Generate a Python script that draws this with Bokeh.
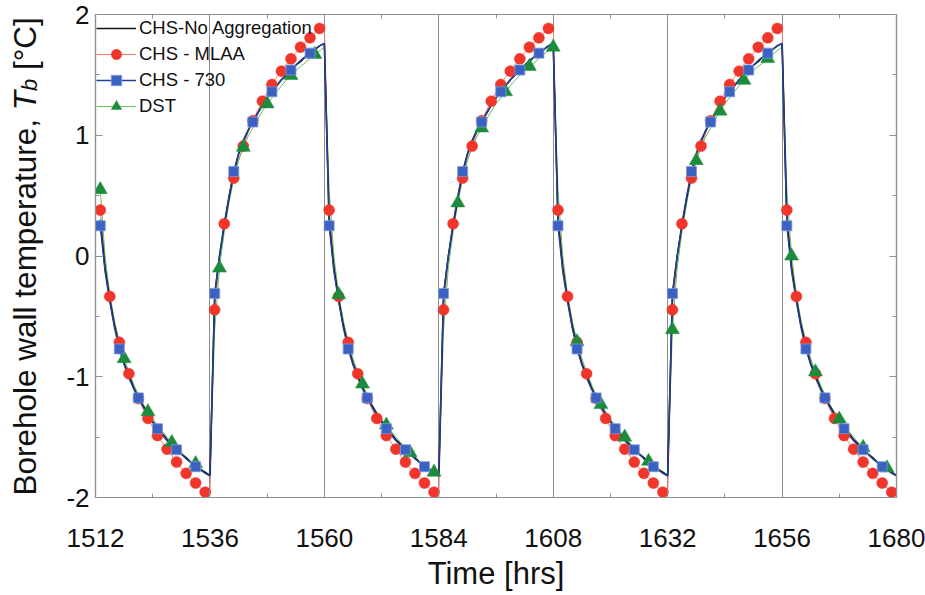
import numpy as np
from bokeh.plotting import figure
from bokeh.layouts import row
from bokeh.models import (FixedTicker, LinearAxis, Range1d, Legend, LegendItem,
                          Label, ColumnDataSource, CustomJSTickFormatter)
from bokeh.embed import file_html
from bokeh.resources import INLINE

# ---------------- data ----------------
# hourly simulation times
hours = list(range(1513, 1681))

# profiles for each 24-h half cycle, tau = 1..24 h after the load switch
# cooling half cycle (temperature falls) / heating half cycle (temperature rises)
na_cool = [0.30, -0.10, -0.36, -0.58, -0.75, -0.89, -0.99, -1.09, -1.17, -1.24, -1.31, -1.37,
           -1.42, -1.47, -1.52, -1.56, -1.60, -1.64, -1.67, -1.71, -1.74, -1.77, -1.79, -1.82]
na_heat = [-0.32, 0.00, 0.25, 0.48, 0.69, 0.84, 0.95, 1.04, 1.11, 1.18, 1.25, 1.31,
           1.36, 1.41, 1.46, 1.50, 1.54, 1.58, 1.61, 1.65, 1.68, 1.71, 1.74, 1.76]

mlaa_cool = [0.38, -0.05, -0.335, -0.55, -0.715, -0.86, -0.975, -1.08, -1.18, -1.27, -1.345, -1.42,
             -1.487, -1.545, -1.60, -1.655, -1.707, -1.755, -1.80, -1.84, -1.88, -1.92, -1.956, -1.99]
mlaa_heat = [-0.446, -0.03, 0.267, 0.48, 0.645, 0.79, 0.91, 1.02, 1.12, 1.205, 1.282, 1.355,
             1.42, 1.48, 1.531, 1.585, 1.633, 1.68, 1.729, 1.77, 1.807, 1.845, 1.885, 1.92]

c730_cool = [0.25, -0.13, -0.38, -0.60, -0.77, -0.90, -1.01, -1.10, -1.175, -1.25, -1.32, -1.38,
             -1.43, -1.48, -1.53, -1.57, -1.605, -1.64, -1.68, -1.71, -1.745, -1.77, -1.80, -1.82]
c730_heat = [-0.31, 0.00, 0.27, 0.50, 0.70, 0.85, 0.96, 1.04, 1.11, 1.18, 1.25, 1.31,
             1.36, 1.41, 1.46, 1.50, 1.54, 1.58, 1.62, 1.65, 1.68, 1.71, 1.74, 1.76]

dst_cool = [0.55, 0.00, -0.32, -0.54, -0.71, -0.85, -0.96, -1.06, -1.15, -1.23, -1.29, -1.35,
            -1.40, -1.45, -1.50, -1.545, -1.585, -1.63, -1.665, -1.70, -1.72, -1.755, -1.79, -1.81]
dst_heat = [-0.61, -0.10, 0.20, 0.44, 0.64, 0.79, 0.90, 0.99, 1.06, 1.13, 1.20, 1.26,
            1.31, 1.36, 1.41, 1.455, 1.495, 1.535, 1.57, 1.60, 1.635, 1.67, 1.70, 1.73]

half_cycles = ["cool", "heat", "cool", "heat", "cool", "heat", "cool"]

def series(cool, heat):
    out = []
    for h in half_cycles:
        out += cool if h == "cool" else heat
    return out

T_na = series(na_cool, na_heat)
T_mlaa = series(mlaa_cool, mlaa_heat)
T_730 = series(c730_cool, c730_heat)
T_dst = series(dst_cool, dst_heat)

# hours at which each method's markers are shown
mlaa_step, c730_step, dst_step = 2, 4, 5

x_ticks = [1512, 1536, 1560, 1584, 1608, 1632, 1656, 1680]
x_minor = [1524, 1548, 1572, 1596, 1620, 1644, 1668]
y_ticks = [-2, -1, 0, 1, 2]
y_minor = [-1.5, -0.5, 0.5, 1.5]
y_tick_text = ["-2", "-1", "0", "1", "2"]

labels = ["CHS-No Aggregation", "CHS - MLAA", "CHS - 730", "DST"]
y_title = ["Borehole wall temperature,", "T", "b", "[°C]"]

# ---------------- figure ----------------
FONT = "Liberation Sans"
AX = "#8a9196"
W, H = 925, 595
LABW = 50                 # width of the strip that holds the y-axis title
TOP, BOTTOM = 14, 98      # borders above / below the plotting frame

p = figure(width=W - LABW, height=H, x_range=Range1d(1512, 1680), y_range=Range1d(-2, 2),
           output_backend="svg", toolbar_location=None,
           min_border_left=95 - LABW, min_border_right=29,
           min_border_top=TOP, min_border_bottom=BOTTOM)
p.background_fill_color = "white"
p.border_fill_color = "white"
p.outline_line_color = AX
p.outline_line_width = 1.2

xt = FixedTicker(ticks=x_ticks, minor_ticks=x_minor)
yt = FixedTicker(ticks=y_ticks, minor_ticks=y_minor)

def style_axis(ax, ticker):
    ax.ticker = ticker
    ax.axis_line_color = AX
    ax.axis_line_width = 1.2
    ax.major_tick_line_color = AX
    ax.minor_tick_line_color = AX
    ax.major_tick_in = 7
    ax.major_tick_out = 0
    ax.minor_tick_in = 4
    ax.minor_tick_out = 0
    ax.major_label_text_font = FONT
    ax.major_label_text_color = "#111111"

style_axis(p.xaxis[0], xt)
style_axis(p.yaxis[0], yt)
p.yaxis[0].major_label_overrides = {v: s for v, s in zip(y_ticks, y_tick_text)}
p.xaxis[0].major_label_text_font_size = "26px"
p.yaxis[0].major_label_text_font_size = "26px"
p.xaxis[0].major_label_standoff = 31
p.yaxis[0].major_label_standoff = 6
p.xaxis[0].axis_label = "Time [hrs]"
p.xaxis[0].axis_label_text_font = FONT
p.xaxis[0].axis_label_text_font_size = "31px"
p.xaxis[0].axis_label_text_font_style = "normal"
p.xaxis[0].axis_label_text_color = "#111111"
p.xaxis[0].axis_label_standoff = 6

# mirror axes on top / right: ticks only, no labels
blank = CustomJSTickFormatter(code="return ''")
top_ax = LinearAxis(formatter=blank, major_label_standoff=0, major_label_text_font_size="8px")
right_ax = LinearAxis(formatter=blank, major_label_standoff=0, major_label_text_font_size="8px")
style_axis(top_ax, xt)
style_axis(right_ax, yt)
p.add_layout(top_ax, "above")
p.add_layout(right_ax, "right")

p.xgrid.ticker = xt
p.xgrid.grid_line_color = "#8c8c8c"
p.xgrid.grid_line_width = 1
p.ygrid.visible = False

src = ColumnDataSource(dict(t=hours, na=T_na, mlaa=T_mlaa, c730=T_730, dst=T_dst))
src_mlaa = ColumnDataSource(dict(t=hours[::mlaa_step], v=T_mlaa[::mlaa_step]))
src_730 = ColumnDataSource(dict(t=hours[::c730_step], v=T_730[::c730_step]))
src_dst = ColumnDataSource(dict(t=hours[::dst_step], v=T_dst[::dst_step]))

RED, BLUE, GREEN = "#f0352b", "#3b62c2", "#1c8c3c"

l_mlaa = p.line("t", "mlaa", source=src, line_color="#f07a72", line_width=1)
l_dst = p.line("t", "dst", source=src, line_color="#62c062", line_width=1)
l_na = p.line("t", "na", source=src, line_color="#161616", line_width=1.6)
l_730 = p.line("t", "c730", source=src, line_color="#233f9e", line_width=1.4)

m_mlaa = p.scatter("t", "v", source=src_mlaa, marker="circle", size=11,
                   fill_color=RED, line_color=RED, line_width=0.5)
m_dst = p.scatter("t", "v", source=src_dst, marker="triangle", size=14,
                  fill_color=GREEN, line_color=GREEN, line_width=0.5)
m_730 = p.scatter("t", "v", source=src_730, marker="square", size=10,
                  fill_color=BLUE, line_color="#7f98d8", line_width=0.8)

legend = Legend(items=[
    LegendItem(label=labels[0], renderers=[l_na]),
    LegendItem(label=labels[1], renderers=[l_mlaa, m_mlaa]),
    LegendItem(label=labels[2], renderers=[l_730, m_730]),
    LegendItem(label=labels[3], renderers=[l_dst, m_dst]),
], location="top_left")
legend.label_text_font = FONT
legend.label_text_font_size = "18.5px"
legend.label_text_color = "#111111"
legend.glyph_width = 40
legend.glyph_height = 26
legend.label_height = 26
legend.label_standoff = 3
legend.spacing = 0
legend.padding = 2
legend.margin = 1
legend.border_line_color = None
legend.background_fill_alpha = 0.0
p.add_layout(legend)

# ---------------- y-axis title strip (italic T with subscript b) ----------------
frame_h = H - TOP - BOTTOM
lab = figure(width=LABW, height=H, x_range=Range1d(0, LABW), y_range=Range1d(0, frame_h),
             output_backend="svg", toolbar_location=None,
             min_border_left=0, min_border_right=0,
             min_border_top=TOP, min_border_bottom=BOTTOM)
lab.axis.visible = False
lab.grid.visible = False
lab.outline_line_color = None
lab.background_fill_color = "white"
lab.border_fill_color = "white"

F = 31.5
SP = 0.278  # width of a space, in em
base_x, start_y = 24, 2
sizes = [F, F, 0.7 * F, F]
styles = ["normal", "italic", "italic", "normal"]
shift = [0, 0, 5, 0]
# advance (in px) after each piece, including the following space where there is one
adv = [(11.949 + SP) * F, 0.611 * F, 0.556 * 0.7 * F + SP * F, 1.678 * F]
yy = start_y
for txt, fs, st, dx, a in zip(y_title, sizes, styles, shift, adv):
    lab.add_layout(Label(x=base_x + dx, y=yy, text=txt, angle=np.pi / 2,
                         text_font=FONT, text_font_size=f"{fs:.1f}px",
                         text_font_style=st, text_color="#111111",
                         text_align="left", text_baseline="alphabetic"))
    yy += a

layout = row(lab, p, spacing=0)
open("out.html", "w").write(file_html(layout, INLINE))
